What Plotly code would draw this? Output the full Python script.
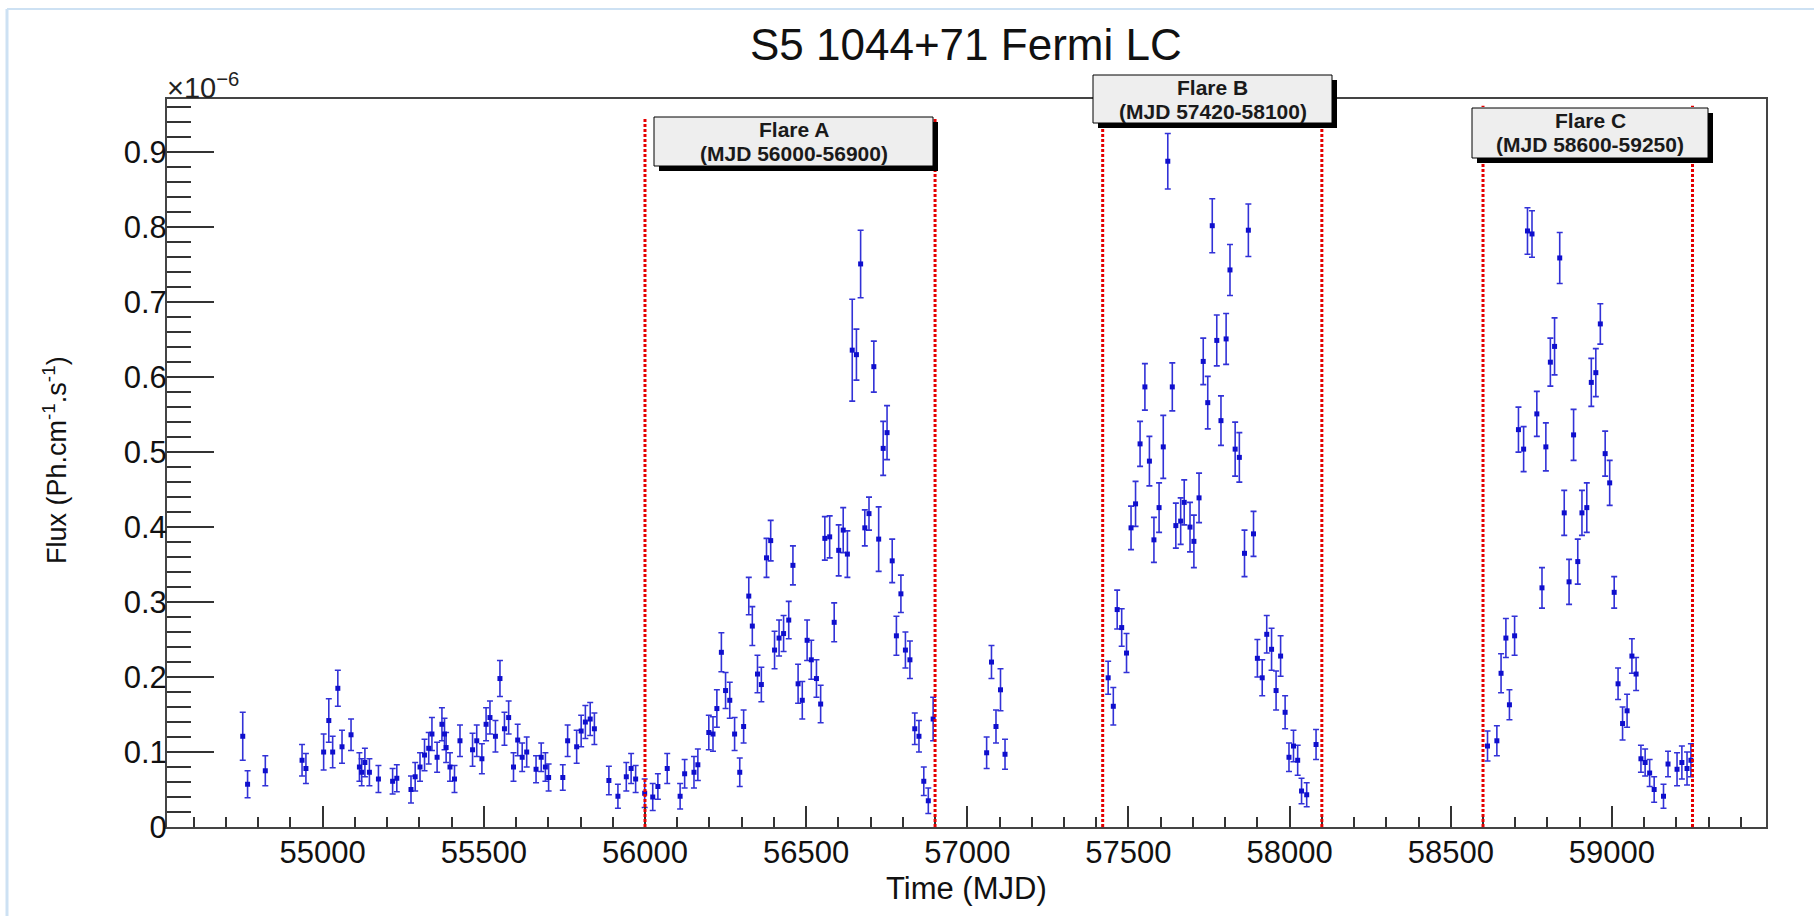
import plotly.graph_objects as go

# ---------------- data (flux in units of 1e-6 ph cm^-1 s^-1) ----------------
mjd_base = [54752, 54767, 54822, 54936, 54948, 55003, 55019, 55031, 55047, 55060,
            55088, 55114, 55121, 55131, 55145, 55173, 55217, 55230, 55274, 55287,
            55302, 55316, 55329, 55339, 55355, 55370, 55378, 55383, 55395, 55409,
            55426, 55465, 55478, 55494, 55507, 55519, 55536, 55550, 55564, 55577,
            55592, 55605, 55619, 55633, 55662, 55678, 55691, 55701, 55745, 55760,
            55788, 55802, 55815, 55830, 55843, 55888, 55916, 55942, 55957, 55971,
            55999]
flux_base = [0.121, 0.057, 0.075, 0.089, 0.078, 0.100, 0.142, 0.100, 0.185, 0.107,
             0.123, 0.080, 0.073, 0.086, 0.073, 0.064, 0.061, 0.065, 0.050, 0.067,
             0.080, 0.096, 0.105, 0.124, 0.093, 0.137, 0.124, 0.106, 0.080, 0.064,
             0.115, 0.103, 0.115, 0.091, 0.137, 0.146, 0.121, 0.198, 0.131, 0.146,
             0.080, 0.116, 0.093, 0.100, 0.077, 0.093, 0.080, 0.066, 0.066, 0.115,
             0.107, 0.128, 0.140, 0.144, 0.131, 0.062, 0.041, 0.067, 0.078, 0.064,
             0.045]
err_base = [0.032, 0.018, 0.020, 0.021, 0.020, 0.024, 0.029, 0.021, 0.024, 0.022,
            0.021, 0.019, 0.018, 0.019, 0.018, 0.018, 0.017, 0.018, 0.018, 0.019,
            0.019, 0.021, 0.021, 0.022, 0.020, 0.022, 0.021, 0.020, 0.019, 0.018,
            0.021, 0.022, 0.021, 0.020, 0.022, 0.022, 0.021, 0.024, 0.022, 0.022,
            0.019, 0.021, 0.019, 0.020, 0.018, 0.019, 0.019, 0.018, 0.017, 0.021,
            0.022, 0.021, 0.022, 0.022, 0.021, 0.019, 0.016, 0.019, 0.020, 0.018,
            0.019]

mjd_a = [56024, 56040, 56069, 56109, 56123, 56152, 56164, 56198, 56211, 56223,
         56237, 56250, 56263, 56278, 56294, 56306, 56322, 56333, 56349, 56361,
         56377, 56390, 56402, 56416, 56430, 56446, 56459, 56475, 56488, 56503,
         56516, 56532, 56545, 56558, 56573, 56587, 56601, 56615, 56628, 56643,
         56656, 56669, 56682, 56695, 56710, 56725, 56739, 56751, 56767, 56780,
         56794, 56808, 56822, 56837, 56850, 56865, 56879, 56894]
flux_a = [0.040, 0.054, 0.078, 0.041, 0.071, 0.073, 0.083, 0.126, 0.124, 0.158,
          0.233, 0.182, 0.169, 0.124, 0.073, 0.134, 0.308, 0.268, 0.204, 0.190,
          0.359, 0.382, 0.236, 0.252, 0.258, 0.276, 0.349, 0.191, 0.169, 0.249,
          0.223, 0.198, 0.164, 0.385, 0.387, 0.273, 0.369, 0.396, 0.364, 0.636,
          0.630, 0.751, 0.399, 0.418, 0.614, 0.384, 0.505, 0.526, 0.355, 0.255,
          0.311, 0.236, 0.223, 0.131, 0.121, 0.061, 0.035, 0.144]
err_a = [0.018, 0.017, 0.020, 0.017, 0.019, 0.021, 0.021, 0.023, 0.023, 0.025,
         0.026, 0.024, 0.024, 0.022, 0.019, 0.022, 0.025, 0.026, 0.025, 0.023,
         0.026, 0.027, 0.025, 0.024, 0.024, 0.025, 0.026, 0.026, 0.025, 0.027,
         0.026, 0.025, 0.025, 0.029, 0.028, 0.026, 0.034, 0.030, 0.031, 0.068,
         0.034, 0.045, 0.024, 0.022, 0.034, 0.043, 0.036, 0.036, 0.029, 0.026,
         0.025, 0.024, 0.025, 0.021, 0.021, 0.019, 0.017, 0.029]

mjd_mid = [57060, 57075, 57089, 57103, 57117]
flux_mid = [0.099, 0.220, 0.134, 0.183, 0.097]
err_mid = [0.021, 0.022, 0.022, 0.028, 0.020]

mjd_b = [57437, 57453, 57465, 57479, 57494, 57508, 57522, 57536, 57551, 57565,
         57579, 57595, 57608, 57622, 57636, 57647, 57662, 57673, 57691, 57703,
         57719, 57732, 57746, 57760, 57774, 57787, 57803, 57815, 57831, 57844,
         57860, 57872, 57888, 57900, 57915, 57929, 57944, 57958, 57972, 57986,
         57998, 58012, 58025, 58037, 58053, 58082]
flux_b = [0.199, 0.161, 0.290, 0.266, 0.232, 0.399, 0.431, 0.511, 0.587, 0.488,
          0.383, 0.426, 0.507, 0.888, 0.587, 0.402, 0.408, 0.433, 0.400, 0.381,
          0.439, 0.621, 0.566, 0.802, 0.649, 0.542, 0.651, 0.743, 0.504, 0.493,
          0.365, 0.796, 0.391, 0.225, 0.199, 0.257, 0.237, 0.182, 0.228, 0.153,
          0.093, 0.108, 0.089, 0.048, 0.043, 0.110]
err_b = [0.022, 0.025, 0.026, 0.025, 0.026, 0.029, 0.030, 0.030, 0.031, 0.033,
         0.030, 0.033, 0.042, 0.037, 0.032, 0.030, 0.031, 0.030, 0.033, 0.035,
         0.033, 0.031, 0.035, 0.036, 0.034, 0.033, 0.034, 0.034, 0.036, 0.033,
         0.031, 0.035, 0.030, 0.025, 0.024, 0.025, 0.028, 0.026, 0.027, 0.022,
         0.019, 0.021, 0.020, 0.017, 0.016, 0.020]

mjd_c = [58614, 58643, 58656, 58671, 58682, 58698, 58710, 58726, 58738, 58752,
         58767, 58783, 58795, 58809, 58822, 58838, 58852, 58867, 58881, 58894,
         58907, 58922, 58936, 58950, 58964, 58979, 58993, 59007, 59019, 59033,
         59047, 59062, 59075, 59090, 59103, 59117, 59131, 59160, 59174, 59202,
         59217, 59233, 59245]
flux_c = [0.108, 0.115, 0.205, 0.252, 0.163, 0.255, 0.530, 0.504, 0.795, 0.791,
          0.551, 0.319, 0.507, 0.620, 0.641, 0.759, 0.419, 0.327, 0.523, 0.354,
          0.419, 0.426, 0.593, 0.606, 0.671, 0.498, 0.459, 0.313, 0.191, 0.138,
          0.155, 0.228, 0.204, 0.091, 0.086, 0.072, 0.050, 0.041, 0.084, 0.077,
          0.086, 0.078, 0.089]
err_c = [0.020, 0.020, 0.026, 0.026, 0.020, 0.026, 0.030, 0.030, 0.031, 0.031,
         0.030, 0.027, 0.032, 0.032, 0.038, 0.034, 0.030, 0.030, 0.034, 0.030,
         0.030, 0.033, 0.032, 0.032, 0.027, 0.030, 0.030, 0.021, 0.021, 0.022,
         0.022, 0.023, 0.022, 0.018, 0.018, 0.018, 0.017, 0.016, 0.017, 0.022,
         0.022, 0.022, 0.022]

flare_names = ["Flare A", "Flare B", "Flare C"]
flare_start = [56000, 57420, 58600]
flare_end = [56900, 58100, 59250]
flare_line_top = [0.947, 0.95, 0.962]

x_ticks = [55000, 55500, 56000, 56500, 57000, 57500, 58000, 58500, 59000]
y_ticks = [0, 0.1, 0.2, 0.3, 0.4, 0.5, 0.6, 0.7, 0.8, 0.9]

# ---------------- assemble ----------------
mjd = mjd_base + mjd_a + mjd_mid + mjd_b + mjd_c
flux = flux_base + flux_a + flux_mid + flux_b + flux_c
err = err_base + err_a + err_mid + err_b + err_c
n = min(len(mjd), len(flux), len(err))
mjd, flux, err = mjd[:n], flux[:n], err[:n]

W, H = 1814, 916
L, R, T, B = 167, 1766, 99, 827   # plot frame in pixels
FONT = "Liberation Sans, Arial, Helvetica, sans-serif"


def px(xp):
    return (xp - L) / (R - L)


def py(yp):
    return (B - yp) / (B - T)


fig = go.Figure()
fig.add_trace(go.Scatter(
    x=mjd, y=flux, mode="markers",
    marker=dict(symbol="square", size=5, color="rgb(15,15,205)", line=dict(width=0)),
    error_y=dict(type="data", array=err, visible=True, color="rgb(50,50,215)",
                 thickness=1.6, width=3),
    showlegend=False, hoverinfo="x+y",
))

shapes = []
# red dotted flare boundaries
for s, e, top in zip(flare_start, flare_end, flare_line_top):
    for xv in (s, e):
        shapes.append(dict(type="line", xref="x", yref="y", x0=xv, x1=xv, y0=0, y1=top,
                           line=dict(color="rgb(230,0,0)", width=3, dash="3px,2px"),
                           layer="above"))

# flare boxes (pixel geometry)
boxes = [(654, 933, 117, 166), (1093, 1332, 75, 123), (1472, 1708, 108, 158)]
annotations = []
for name, s, e, (x0, x1, y0, y1) in zip(flare_names, flare_start, flare_end, boxes):
    sh = 5
    shapes.append(dict(type="rect", xref="paper", yref="paper",
                       x0=px(x0 + sh), x1=px(x1 + sh), y0=py(y1 + sh), y1=py(y0 + sh),
                       fillcolor="black", line=dict(width=0), layer="above"))
    shapes.append(dict(type="rect", xref="paper", yref="paper",
                       x0=px(x0), x1=px(x1), y0=py(y1), y1=py(y0),
                       fillcolor="rgb(238,238,238)", line=dict(color="black", width=1),
                       layer="above"))
    xc = px((x0 + x1) / 2)
    annotations.append(dict(xref="paper", yref="paper", x=xc, y=py(y0 + 12.5),
                            text=f"<b>{name}</b>", showarrow=False, borderpad=0,
                            font=dict(family=FONT, size=21, color="#1a1a1a"),
                            xanchor="center", yanchor="middle"))
    annotations.append(dict(xref="paper", yref="paper", x=xc, y=py(y0 + 36.5),
                            text=f"<b>(MJD {s}-{e})</b>", showarrow=False, borderpad=0,
                            font=dict(family=FONT, size=21, color="#1a1a1a"),
                            xanchor="center", yanchor="middle"))

# light window border (top & left)
shapes.append(dict(type="line", xref="paper", yref="paper", x0=px(7), x1=px(1830),
                   y0=py(9), y1=py(9), line=dict(color="rgb(205,225,243)", width=2)))
shapes.append(dict(type="line", xref="paper", yref="paper", x0=px(7), x1=px(7),
                   y0=py(9), y1=py(930), line=dict(color="rgb(205,225,243)", width=3)))

# title, axis titles, exponent
annotations.append(dict(xref="paper", yref="paper", x=px(966), y=py(44),
                        text="S5 1044+71 Fermi LC", showarrow=False,
                        font=dict(family=FONT, size=44, color="#111"),
                        xanchor="center", yanchor="middle"))
annotations.append(dict(xref="paper", yref="paper", x=px(966), y=py(889),
                        text="Time (MJD)", showarrow=False,
                        font=dict(family=FONT, size=31, color="#111"),
                        xanchor="center", yanchor="middle"))
annotations.append(dict(xref="paper", yref="paper", x=px(55), y=py(460),
                        text="Flux (Ph.cm<sup>-1</sup>.s<sup>-1</sup>)", showarrow=False,
                        textangle=-90,
                        font=dict(family=FONT, size=27, color="#111"),
                        xanchor="center", yanchor="middle"))
annotations.append(dict(xref="paper", yref="paper", x=px(165), y=py(106),
                        text="\u00d710<sup>\u22126</sup>", showarrow=False,
                        font=dict(family=FONT, size=29, color="#222"),
                        xanchor="left", yanchor="bottom"))

fig.update_layout(
    width=W, height=H,
    margin=dict(l=L, r=W - R, t=T, b=H - B, pad=0),
    paper_bgcolor="white", plot_bgcolor="white",
    shapes=shapes, annotations=annotations,
    font=dict(family=FONT, color="#111"),
    xaxis=dict(range=[54517, 59478], tickmode="array", tickvals=x_ticks,
               ticktext=[str(v) for v in x_ticks],
               ticks="inside", ticklen=21, tickwidth=1.5, tickcolor="#333",
               minor=dict(dtick=100, tick0=55000, ticks="inside", ticklen=10,
                          tickwidth=1.5, tickcolor="#333"),
               showline=True, linecolor="#444", linewidth=2, mirror=True,
               showgrid=False, zeroline=False, ticklabelstandoff=-3,
               tickfont=dict(family=FONT, size=31, color="#111")),
    yaxis=dict(range=[0, 0.971], tickmode="array", tickvals=y_ticks,
               ticktext=[("0" if v == 0 else f"{v:.1f}") for v in y_ticks],
               ticks="inside", ticklen=47, tickwidth=1.5, tickcolor="#333",
               minor=dict(dtick=0.02, tick0=0, ticks="inside", ticklen=24,
                          tickwidth=1.5, tickcolor="#333"),
               showline=True, linecolor="#444", linewidth=2, mirror=True,
               showgrid=False, zeroline=False, ticklabelstandoff=-8,
               tickfont=dict(family=FONT, size=31, color="#111")),
)

fig.write_html("out.html")
